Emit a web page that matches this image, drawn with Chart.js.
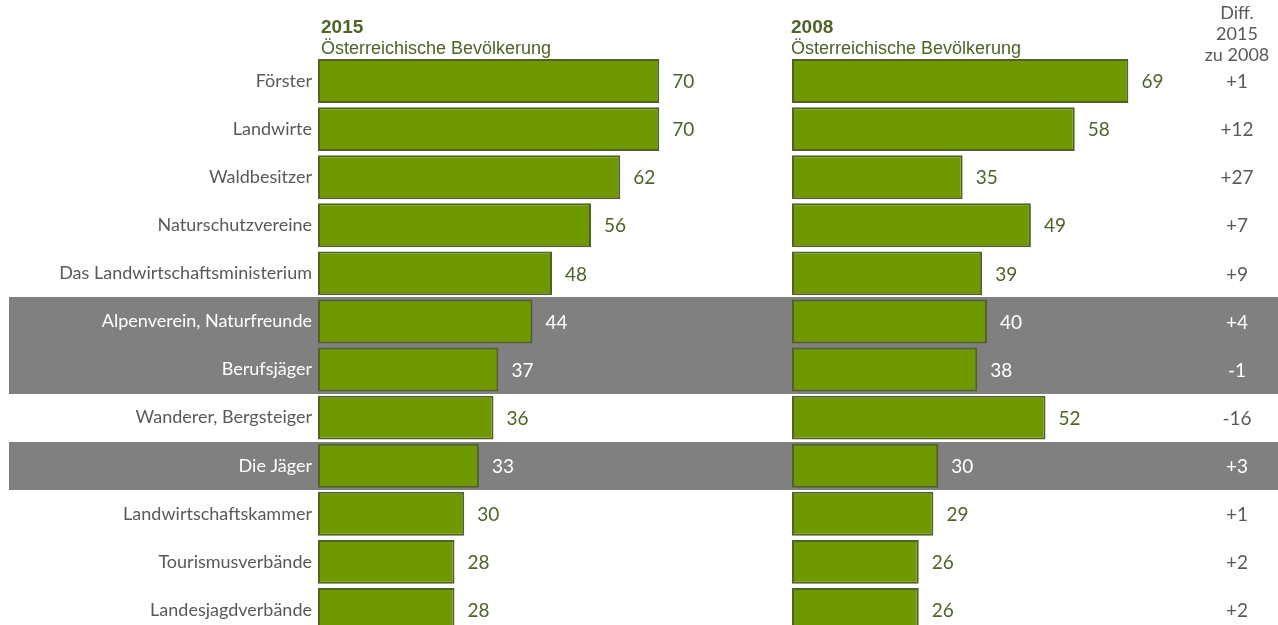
<!DOCTYPE html>
<html>
<head>
<meta charset="utf-8">
<script src="https://cdn.jsdelivr.net/npm/chart.js@4.4.1/dist/chart.umd.min.js"></script>
<style>
  body { margin: 0; background: #fff; overflow: hidden; width: 1278px; height: 625px; position: relative; }
  canvas { position: absolute; top: 0; }
  #left { left: 0; }
  #right { left: 780px; }
</style>
</head>
<body>
<canvas id="left" width="780" height="640"></canvas>
<canvas id="right" width="498" height="640"></canvas>
<script>
// Daten
const categories = [
  'Förster', 'Landwirte', 'Waldbesitzer', 'Naturschutzvereine',
  'Das Landwirtschaftsministerium', 'Alpenverein, Naturfreunde', 'Berufsjäger',
  'Wanderer, Bergsteiger', 'Die Jäger', 'Landwirtschaftskammer',
  'Tourismusverbände', 'Landesjagdverbände'
];
const values2015 = [70, 70, 62, 56, 48, 44, 37, 36, 33, 30, 28, 28];
const values2008 = [69, 58, 35, 49, 39, 40, 38, 52, 30, 29, 26, 26];
const highlightRows = [5, 6, 8];
const diffHeader = ['Diff.', '2015', 'zu 2008'];

const diffLabels = values2015.map((v, i) => {
  const d = v - values2008[i];
  return d > 0 ? '+' + d : String(d);
});

const barFill = '#709800';
const barBorder = '#4f6228';
const olive = '#4f6228';
const grayText = '#595959';
const bandColor = '#808080';
const bodyFont = 'Lato, "Open Sans", sans-serif';
const headFont = '"Liberation Sans", Arial, sans-serif';

const isHighlight = i => highlightRows.includes(i);

// graue Zeilen hinter allem
const bandPlugin = {
  id: 'bands',
  beforeDraw(chart, args, opts) {
    const y = chart.scales.y;
    const ctx = chart.ctx;
    const step = y.getPixelForValue(1) - y.getPixelForValue(0);
    ctx.save();
    ctx.fillStyle = bandColor;
    highlightRows.forEach(i => {
      const c = y.getPixelForValue(i);
      const top = Math.round(c - step / 2);
      const bottom = Math.round(c + step / 2);
      ctx.fillRect(opts.x0, top, chart.width - opts.x0, bottom - top);
    });
    ctx.restore();
  }
};

// Werte neben den Balken
const valuePlugin = {
  id: 'values',
  afterDatasetsDraw(chart) {
    const ctx = chart.ctx;
    const data = chart.data.datasets[0].data;
    ctx.save();
    ctx.font = '19px ' + bodyFont;
    ctx.textBaseline = 'middle';
    ctx.textAlign = 'left';
    chart.getDatasetMeta(0).data.forEach((bar, i) => {
      ctx.fillStyle = isHighlight(i) ? '#ffffff' : olive;
      ctx.fillText(String(data[i]), bar.x + 13, bar.y + 1);
    });
    ctx.restore();
  }
};

// Überschrift über den Balken
const headerPlugin = {
  id: 'header',
  afterDraw(chart, args, opts) {
    const ctx = chart.ctx;
    const x = chart.chartArea.left + opts.dx;
    ctx.save();
    ctx.fillStyle = olive;
    ctx.textAlign = 'left';
    ctx.textBaseline = 'alphabetic';
    ctx.font = 'bold 19px ' + headFont;
    ctx.fillText(opts.title, x, 33);
    ctx.font = '18px ' + headFont;
    ctx.fillText(opts.sub, x, 54);
    ctx.restore();
  }
};

// Differenz-Spalte rechts
const diffPlugin = {
  id: 'diff',
  afterDraw(chart) {
    const ctx = chart.ctx;
    const x = chart.chartArea.right + 55;
    const y = chart.scales.y;
    ctx.save();
    ctx.textAlign = 'center';
    ctx.textBaseline = 'middle';
    ctx.font = '18px ' + bodyFont;
    ctx.fillStyle = grayText;
    diffHeader.forEach((t, k) => ctx.fillText(t, x, 13 + k * 21));
    ctx.font = '19px ' + bodyFont;
    diffLabels.forEach((t, i) => {
      ctx.fillStyle = isHighlight(i) ? '#ffffff' : grayText;
      ctx.fillText(t, x, y.getPixelForValue(i) + 1);
    });
    ctx.restore();
  }
};

const makeDataset = (values) => ({
  data: values,
  backgroundColor: barFill,
  borderColor: barBorder,
  borderWidth: 2,
  borderSkipped: false,
  categoryPercentage: 1,
  barPercentage: 0.915
});

const baseOptions = (padding, showLabels) => ({
  indexAxis: 'y',
  responsive: false,
  animation: false,
  devicePixelRatio: 1,
  layout: { padding },
  scales: {
    x: { display: false, min: 0, max: 80 },
    y: {
      display: showLabels,
      grid: { display: false, drawTicks: false },
      border: { display: false },
      afterFit: (scale) => {
        if (showLabels) scale.width = 309;
        scale.paddingTop = 0;
        scale.paddingBottom = 0;
      },
      ticks: {
        padding: 6,
        font: { family: bodyFont, size: 18 },
        color: (c) => isHighlight(c.index) ? '#ffffff' : grayText
      }
    }
  },
  plugins: {
    legend: { display: false },
    tooltip: { enabled: false }
  }
});

// linkes Diagramm 2015
const leftOpts = baseOptions({ left: 9, right: 72, top: 57, bottom: 6 }, true);
leftOpts.plugins.bands = { x0: 9 };
leftOpts.plugins.header = { title: '2015', sub: 'Österreichische Bevölkerung', dx: 3 };
new Chart(document.getElementById('left'), {
  type: 'bar',
  data: { labels: categories, datasets: [makeDataset(values2015)] },
  options: leftOpts,
  plugins: [bandPlugin, valuePlugin, headerPlugin]
});

// rechtes Diagramm 2008
const rightOpts = baseOptions({ left: 12, right: 96, top: 57, bottom: 6 }, false);
rightOpts.plugins.bands = { x0: 0 };
rightOpts.plugins.header = { title: '2008', sub: 'Österreichische Bevölkerung', dx: -1 };
new Chart(document.getElementById('right'), {
  type: 'bar',
  data: { labels: categories, datasets: [makeDataset(values2008)] },
  options: rightOpts,
  plugins: [bandPlugin, valuePlugin, headerPlugin, diffPlugin]
});
</script>
</body>
</html>
